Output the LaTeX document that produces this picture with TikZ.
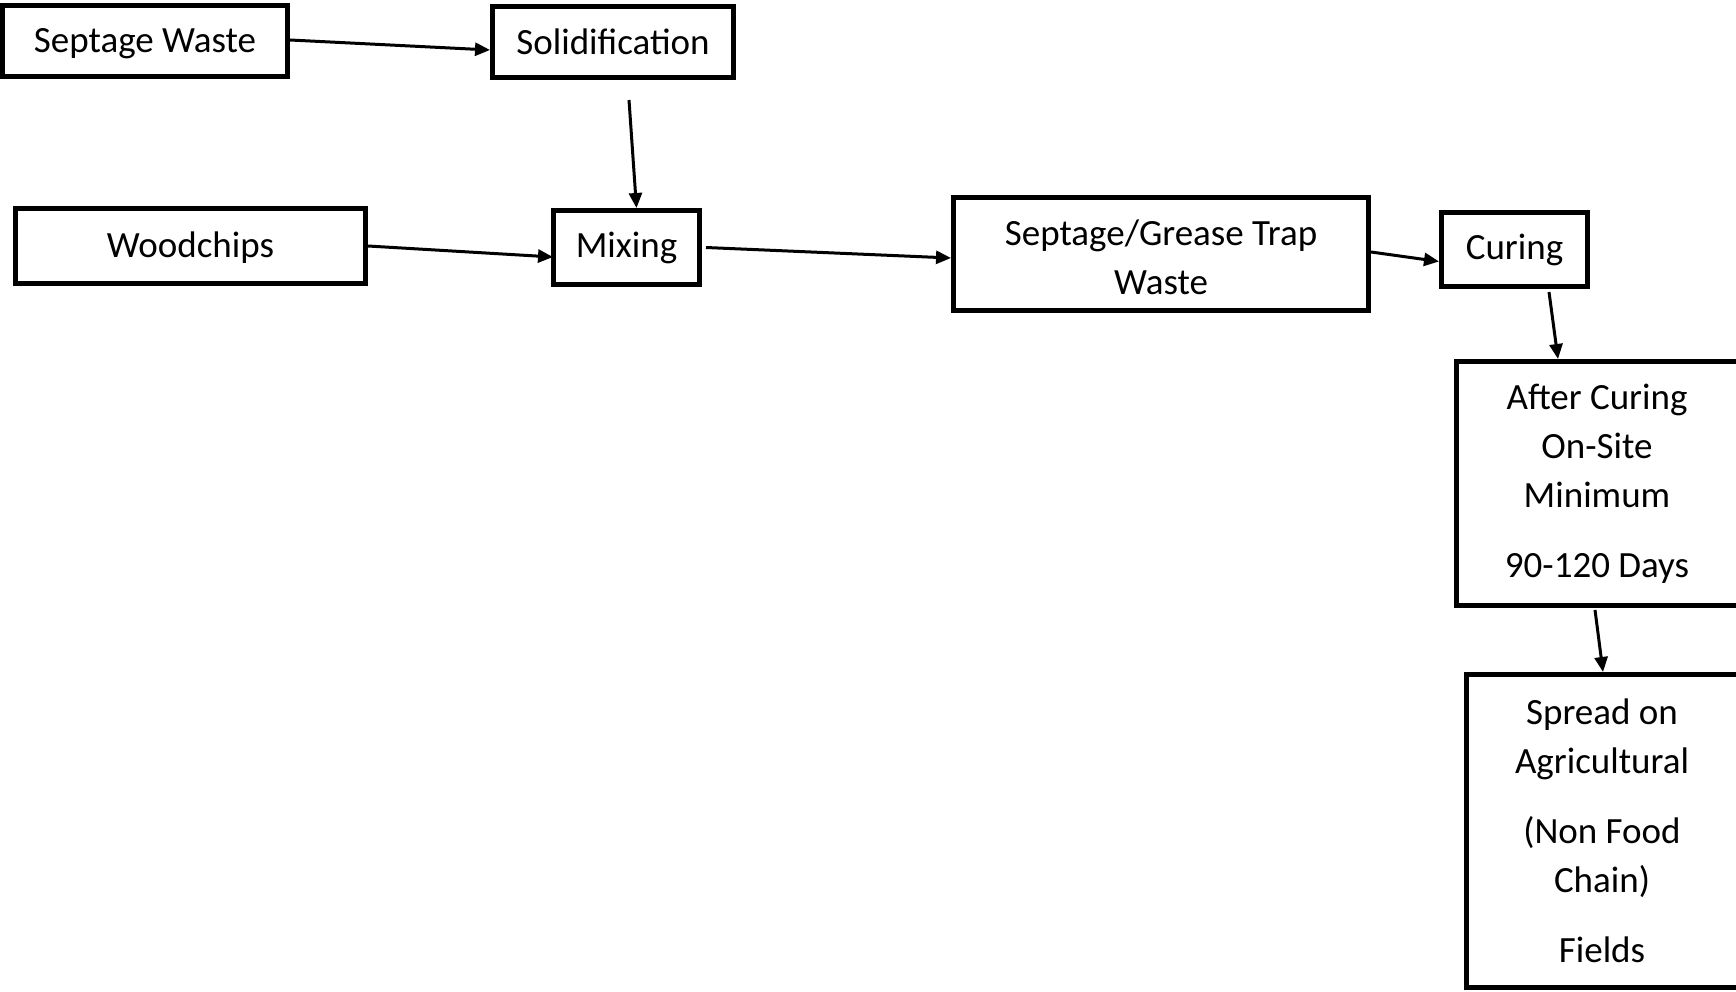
\documentclass[tikz,border=0pt]{standalone}
\usepackage{fontspec}
\setmainfont{Carlito}
\usetikzlibrary{arrows.meta,calc}
\newcommand{\lowerby}[2]{\raisebox{-#1}[\height][\depth]{#2}}
\begin{document}
\begin{tikzpicture}[x=1pt,y=-1pt,
  box/.style={draw=black,line width=5pt,rectangle,inner sep=0pt,align=center,
    font=\fontsize{37}{49}\selectfont},
  conn/.style={line width=3pt,-{Triangle[length=15pt,width=13pt]}}]
\useasboundingbox (0,0) rectangle (1736,992);
\node[box,minimum width=285pt,minimum height=71pt] (sw) at (145,41) {\lowerby{3pt}{Septage Waste}};
\node[box,minimum width=241pt,minimum height=71pt] (sol) at (613,42) {Solidification};
\node[box,minimum width=350pt,minimum height=75pt] (wood) at (190.5,246) {\lowerby{2pt}{Woodchips}};
\node[box,minimum width=146pt,minimum height=74pt] (mix) at (626.5,247.5) {Mixing};
\node[box,minimum width=415pt,minimum height=113pt] (sg) at (1161,254) {\lowerby{6pt}{\begin{tabular}{@{}c@{}}Septage/Grease Trap\\Waste\end{tabular}}};
\node[box,minimum width=146pt,minimum height=74pt] (cur) at (1514.5,249.5) {Curing};
\node[box,minimum width=282pt,minimum height=244pt] (after) at (1597,483.5) {After Curing\\On-Site\\Minimum\\[21pt]90-120 Days};
\node[box,minimum width=272pt,minimum height=313pt] (spread) at (1602,831) {Spread on\\Agricultural\\[21pt](Non Food\\Chain)\\[21pt]Fields};
\draw[conn] ($(sw.east)+(0,-1)$) -- ($(sol.west)+(0,8)$);
\draw[conn] ($(sol.south)+(16,20)$) -- ($(mix.north)+(10,0)$);
\draw[conn] (wood.east) -- ($(mix.west)+(2,9.5)$);
\draw[conn] ($(mix.east)+(4,0)$) -- ($(sg.west)+(0,4)$);
\draw[conn] ($(sg.east)+(0,-2)$) -- ($(cur.west)+(0,12)$);
\draw[conn] ($(cur.south)+(34.5,3)$) -- ($(after.north)+(-39,0)$);
\draw[conn] ($(after.south)+(-2,2)$) -- ($(spread.north)+(1,0)$);
\end{tikzpicture}
\end{document}
